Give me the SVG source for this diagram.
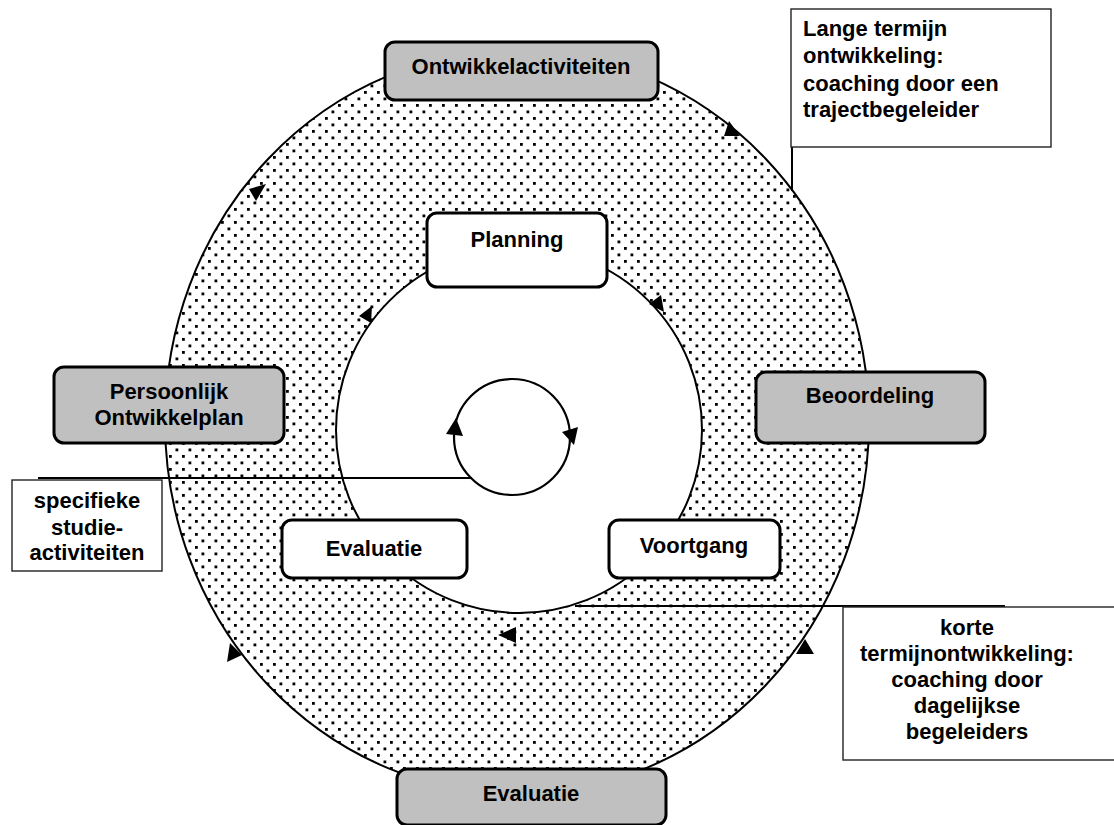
<svg xmlns="http://www.w3.org/2000/svg" width="1114" height="825" viewBox="0 0 1114 825">
  <style>
    .lbl { font-family: "Liberation Sans", Arial, sans-serif; font-weight: bold; font-size: 22px; fill: #000; }
    .mid { text-anchor: middle; }
    .stage { fill: #c0c0c0; stroke: #000; stroke-width: 3; }
    .step { fill: #fff; stroke: #000; stroke-width: 3; }
    .note { fill: #fff; stroke: #222; stroke-width: 1.4; }
    .line { fill: none; stroke: #000; stroke-width: 2; }
    .head { fill: #000; stroke: none; }
  </style>
  <defs>
    <pattern id="dots" patternUnits="userSpaceOnUse" width="13" height="13">
      <rect x="0" y="0" width="13" height="13" fill="#fff"/>
      <rect x="0" y="0" width="2.8" height="2.8" fill="#000"/>
      <rect x="6.5" y="6.5" width="2.8" height="2.8" fill="#000"/>
    </pattern>
  </defs>

  <rect width="1114" height="825" fill="#fff"/>

  <!-- ring: long-term cycle (dotted) around the short-term cycle (white) -->
  <g id="ring">
    <ellipse cx="517" cy="422" rx="352" ry="372" fill="url(#dots)" stroke="#000" stroke-width="2"/>
    <circle cx="519" cy="430" r="183" fill="#fff" stroke="#000" stroke-width="2"/>
    <circle cx="512" cy="437" r="58" fill="none" stroke="#000" stroke-width="2.2"/>
  </g>

  <!-- connectors and direction marks -->
  <g id="connectors">
    <line class="line" x1="792" y1="147" x2="792" y2="191" stroke-width="1.6"/>
    <line class="line" x1="38" y1="478" x2="472" y2="478"/>
    <line class="line" x1="575" y1="606" x2="1005" y2="606"/>
    <!-- outer cycle -->
    <polygon class="head" points="729,121 724,136 740,136"/>
    <polygon class="head" points="249,189 266,184 256,201"/>
    <polygon class="head" points="230,643 227,662 242,655"/>
    <polygon class="head" points="796,654 814,654 805,639"/>
    <!-- inner cycle -->
    <polygon class="head" points="359,316 371,323 372,306"/>
    <polygon class="head" points="649,304 661,295 664,312"/>
    <polygon class="head" points="516,627 516,643 498,635"/>
    <!-- central loop -->
    <polygon class="head" points="446,434 463,436 456,418"/>
    <polygon class="head" points="562,432 578,427 574,445"/>
  </g>

  <g id="ontwikkelactiviteiten">
    <rect class="stage" x="385" y="42" width="273" height="58" rx="10"/>
    <text class="lbl mid" x="521" y="74">Ontwikkelactiviteiten</text>
  </g>

  <g id="persoonlijk-ontwikkelplan">
    <rect class="stage" x="54" y="367" width="230" height="76" rx="10"/>
    <text class="lbl mid" x="169" y="399">Persoonlijk</text>
    <text class="lbl mid" x="169" y="425">Ontwikkelplan</text>
  </g>

  <g id="beoordeling">
    <rect class="stage" x="756" y="372" width="229" height="71" rx="10"/>
    <text class="lbl mid" x="870" y="403">Beoordeling</text>
  </g>

  <g id="evaluatie-outer">
    <rect class="stage" x="397" y="769" width="269" height="56" rx="10"/>
    <text class="lbl mid" x="531" y="801">Evaluatie</text>
  </g>

  <g id="planning">
    <rect class="step" x="427" y="213" width="180" height="74" rx="10"/>
    <text class="lbl mid" x="517" y="247">Planning</text>
  </g>

  <g id="evaluatie-inner">
    <rect class="step" x="282" y="520" width="185" height="58" rx="10"/>
    <text class="lbl mid" x="374" y="556">Evaluatie</text>
  </g>

  <g id="voortgang">
    <rect class="step" x="609" y="520" width="171" height="58" rx="10"/>
    <text class="lbl mid" x="694" y="553">Voortgang</text>
  </g>

  <g id="lange-termijn">
    <rect class="note" x="791" y="9" width="260" height="138"/>
    <text class="lbl" x="803" y="36">Lange termijn</text>
    <text class="lbl" x="803" y="63">ontwikkeling:</text>
    <text class="lbl" x="803" y="91">coaching door een</text>
    <text class="lbl" x="803" y="117">trajectbegeleider</text>
  </g>

  <g id="specifieke-studieactiviteiten">
    <rect class="note" x="12" y="480" width="150" height="91"/>
    <text class="lbl mid" x="87" y="508">specifieke</text>
    <text class="lbl mid" x="87" y="535">studie-</text>
    <text class="lbl mid" x="87" y="560">activiteiten</text>
  </g>

  <g id="korte-termijn">
    <rect class="note" x="843" y="607" width="275" height="153"/>
    <text class="lbl mid" x="967" y="635" font-size="21">korte</text>
    <text class="lbl mid" x="967" y="661" font-size="21">termijnontwikkeling:</text>
    <text class="lbl mid" x="967" y="687" font-size="21">coaching door</text>
    <text class="lbl mid" x="967" y="713" font-size="21">dagelijkse</text>
    <text class="lbl mid" x="967" y="739" font-size="21">begeleiders</text>
  </g>
</svg>
